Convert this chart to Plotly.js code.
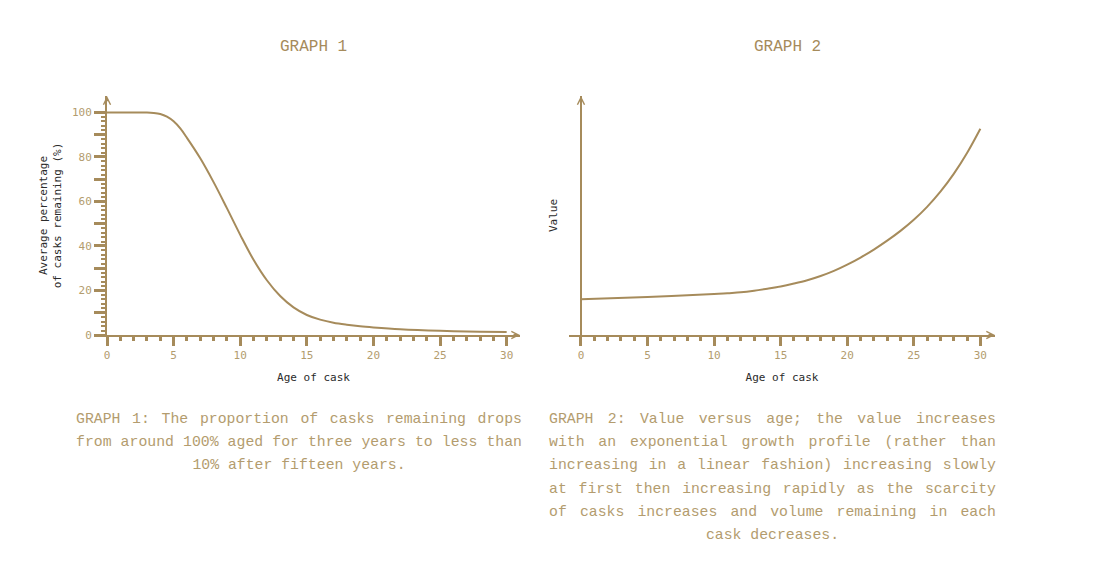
<!DOCTYPE html>
<html>
<head>
<meta charset="utf-8">
<script src="https://cdn.plot.ly/plotly-3.0.1.min.js"></script>
<style>
  body { margin: 0; background: #fff; }
  #wrap { position: relative; width: 1106px; height: 577px; }
  #chart { position: absolute; left: 0; top: 0; width: 1106px; height: 577px; }
  .cap { position: absolute; font-family: 'Liberation Mono', 'DejaVu Sans Mono', monospace;
         font-size: 14.8px; line-height: 23.2px; color: #b39c6e; }
  .cap div { text-align: justify; text-align-last: justify; white-space: nowrap; }
  .cap div.last { text-align: center; text-align-last: center; }
</style>
</head>
<body>
<div id="wrap">
  <div id="chart"></div>
  <div class="cap" id="cap1" style="left:76px; top:408px; width:446px;"></div>
  <div class="cap" id="cap2" style="left:549px; top:408px; width:447px;"></div>
</div>
<script>
// Graph 1: share of casks still in the warehouse by age
const AGE_1     = [0, 1, 2, 2.5, 3, 3.5, 4, 4.5, 5, 5.5, 6, 7, 8, 9, 10, 11, 12, 13, 14, 15, 16, 17, 18, 19, 20, 22, 25, 28, 30];
const REMAINING = [100, 100, 100, 100, 100, 99.8, 99.3, 98.1, 96.0, 92.8, 88.6, 79.4, 68.7, 57, 45, 33.8, 24.6, 17.5, 12.4, 9.0, 6.9, 5.5, 4.6, 3.9, 3.4, 2.6, 1.9, 1.5, 1.3];

// Graph 2: value by age (no scale shown on the chart)
const AGE_2 = [0, 5, 10, 11, 12, 13, 14, 15, 16, 17, 18, 19, 20, 21, 22, 23, 24, 25, 26, 27, 28, 29, 30];
const VALUE = [16.1, 17.1, 18.4, 18.8, 19.2, 19.9, 20.8, 21.8, 23.1, 24.6, 26.5, 28.8, 31.6, 34.8, 38.4, 42.4, 46.8, 51.8, 57.6, 64.4, 72.4, 81.8, 92.7];

const X_MAJOR  = [0, 5, 10, 15, 20, 25, 30];
const Y_MAJOR  = [0, 10, 20, 30, 40, 50, 60, 70, 80, 90, 100];
const Y_LABELS = ['0', '', '20', '', '40', '', '60', '', '80', '', '100'];

const TITLES = ['GRAPH 1', 'GRAPH 2'];
const CAPTION_1 = [
  'GRAPH 1: The proportion of casks remaining drops',
  'from around 100% aged for three years to less than',
  '10% after fifteen years.',
];
const CAPTION_2 = [
  'GRAPH 2: Value versus age; the value increases',
  'with an exponential growth profile (rather than',
  'increasing in a linear fashion) increasing slowly',
  'at first then increasing rapidly as the scarcity',
  'of casks increases and volume remaining in each',
  'cask decreases.',
];

const GOLD      = '#a68b5b';
const GOLD_TEXT = '#b39c6e';
const MONO      = 'DejaVu Sans Mono, monospace';

const X_MAX = 31, Y_MAX = 107.4;

// minor ticks every 1 year, every 2 % (skip the majors)
const X_MINOR = [];
for (let i = 1; i < 30; i++) if (i % 5) X_MINOR.push(i);
const Y_MINOR = [];
for (let i = 2; i < 100; i += 2) if (i % 10) Y_MINOR.push(i);

const W = 1106, H = 577;
const px = v => v / W;
const py = v => (H - v) / H;

const xBase = {
  range: [0, X_MAX],
  showgrid: false, zeroline: false,
  showline: true, linecolor: GOLD, linewidth: 2,
  tickmode: 'array', tickvals: X_MAJOR,
  ticks: 'outside', ticklen: 9, tickwidth: 3, tickcolor: GOLD,
  minor: { tickmode: 'array', tickvals: X_MINOR, ticks: 'outside', ticklen: 4, tickwidth: 3, tickcolor: GOLD },
  tickfont: { family: MONO, size: 11, color: GOLD_TEXT },
  title: { text: 'Age of cask', font: { family: MONO, size: 11, color: '#2b2b2b' }, standoff: 12 },
  fixedrange: true,
};

const traces = [
  {
    x: AGE_1, y: REMAINING,
    xaxis: 'x', yaxis: 'y',
    mode: 'lines',
    line: { color: GOLD, width: 2, shape: 'spline', smoothing: 1 },
    hoverinfo: 'skip', showlegend: false,
  },
  {
    x: AGE_2, y: VALUE,
    xaxis: 'x2', yaxis: 'y2',
    mode: 'lines',
    line: { color: GOLD, width: 2, shape: 'spline', smoothing: 1 },
    hoverinfo: 'skip', showlegend: false,
  },
];

const arrow = (xref, yref, x, y, ax, ay) => ({
  xref, yref, axref: xref, ayref: yref,
  x, y, ax, ay, text: '',
  showarrow: true, arrowhead: 5, arrowsize: 0.7, arrowwidth: 2, arrowcolor: GOLD, standoff: 0,
});

const layout = {
  width: W, height: H,
  margin: { t: 0, r: 0, b: 0, l: 0 },
  paper_bgcolor: '#fff', plot_bgcolor: 'rgba(0,0,0,0)',
  showlegend: false,
  xaxis: { ...xBase, domain: [px(107), px(520)], anchor: 'y' },
  yaxis: {
    domain: [py(335), py(96)], range: [0, Y_MAX], anchor: 'x',
    showgrid: false, zeroline: false,
    showline: true, linecolor: GOLD, linewidth: 2,
    tickmode: 'array', tickvals: Y_MAJOR, ticktext: Y_LABELS,
    ticks: 'outside', ticklen: 11, tickwidth: 3, tickcolor: GOLD,
    minor: { tickmode: 'array', tickvals: Y_MINOR, ticks: 'outside', ticklen: 4, tickwidth: 2, tickcolor: GOLD },
    tickfont: { family: MONO, size: 11, color: GOLD_TEXT },
    title: { text: 'Average percentage<br>of casks remaining (%)', font: { family: MONO, size: 11, color: '#2b2b2b' }, standoff: 8 },
    fixedrange: true,
  },
  xaxis2: { ...xBase, domain: [px(569), px(995)], range: [-0.9, 31.1], anchor: 'y2' },
  yaxis2: {
    domain: [py(335), py(96)], range: [0, Y_MAX], anchor: 'free', position: px(581),
    showgrid: false, zeroline: false,
    showline: true, linecolor: GOLD, linewidth: 2,
    ticks: '', showticklabels: false,
    title: { text: 'Value', font: { family: MONO, size: 11, color: '#2b2b2b' }, standoff: 19 },
    fixedrange: true,
  },
  annotations: [
    { xref: 'paper', yref: 'paper', x: px(313), y: py(47), text: TITLES[0], showarrow: false,
      font: { family: 'Liberation Mono, monospace', size: 16, color: GOLD }, xanchor: 'center', yanchor: 'middle' },
    { xref: 'paper', yref: 'paper', x: px(787), y: py(47), text: TITLES[1], showarrow: false,
      font: { family: 'Liberation Mono, monospace', size: 16, color: GOLD }, xanchor: 'center', yanchor: 'middle' },
    // arrowheads at the axis ends
    arrow('x', 'y', X_MAX, 0, X_MAX - 0.6, 0),
    arrow('x', 'y', 0, Y_MAX, 0, Y_MAX - 3),
    arrow('x2', 'y2', 31.1, 0, 30.5, 0),
    arrow('x2', 'y2', 0, Y_MAX, 0, Y_MAX - 3),
  ],
};

Plotly.newPlot('chart', traces, layout, { displayModeBar: false, staticPlot: true });

// justified captions under each graph
function fillCaption(id, lines) {
  const box = document.getElementById(id);
  lines.forEach((t, i) => {
    const d = document.createElement('div');
    d.textContent = t;
    if (i === lines.length - 1) d.className = 'last';
    box.appendChild(d);
  });
}
fillCaption('cap1', CAPTION_1);
fillCaption('cap2', CAPTION_2);
</script>
</body>
</html>
